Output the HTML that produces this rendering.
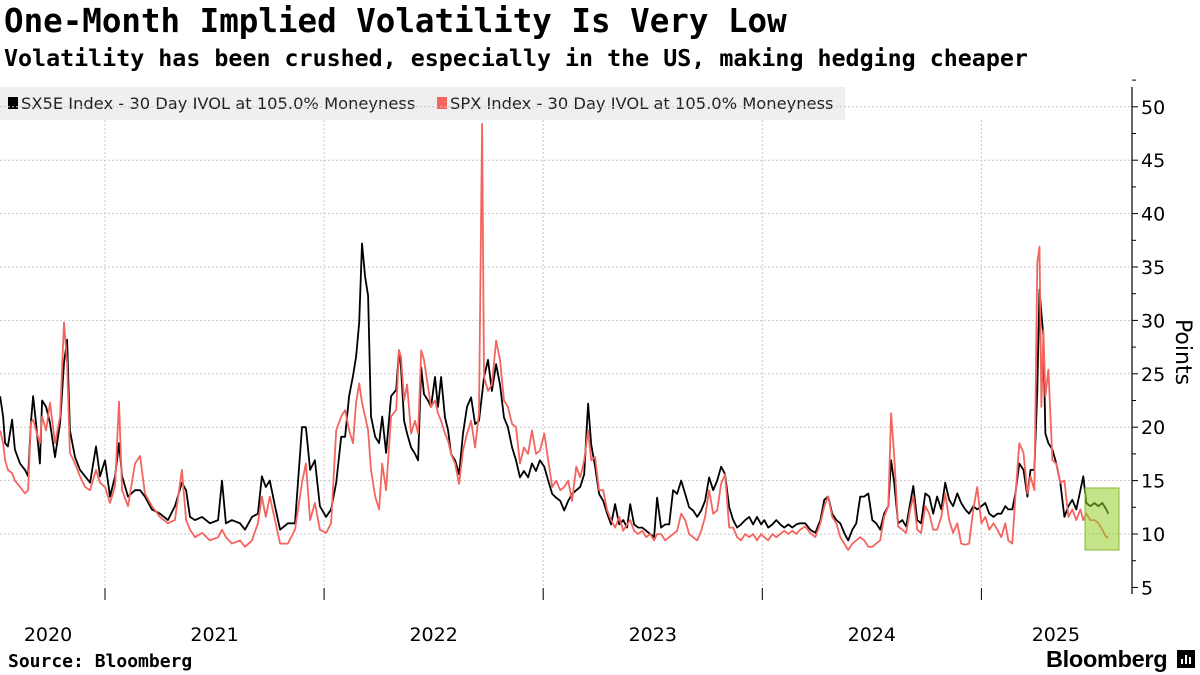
<!DOCTYPE html>
<html><head><meta charset="utf-8">
<style>
html,body{margin:0;padding:0;background:#fff;width:1200px;height:675px;overflow:hidden;font-family:"DejaVu Sans",sans-serif;}
#title{position:absolute;left:4px;top:2px;font-size:32.5px;font-weight:bold;color:#000;font-family:"DejaVu Sans Mono","Liberation Mono",monospace;white-space:nowrap;}
#subtitle{position:absolute;left:4px;top:45px;font-size:23.3px;font-weight:bold;color:#000;font-family:"DejaVu Sans Mono","Liberation Mono",monospace;white-space:nowrap;}
#src{position:absolute;left:8px;top:651px;font-size:18px;font-weight:bold;font-family:"DejaVu Sans Mono","Liberation Mono",monospace;}
#brand{position:absolute;left:1046px;top:646px;font-size:23.5px;font-weight:bold;letter-spacing:-0.3px;font-family:"Liberation Sans",sans-serif;}
svg{position:absolute;left:0;top:0;}
</style></head><body>
<div id="title">One-Month Implied Volatility Is Very Low</div>
<div id="subtitle">Volatility has been crushed, especially in the US, making hedging cheaper</div>
<svg id="chart" width="1200" height="675"></svg>
<div id="src">Source: Bloomberg</div>
<div id="brand">Bloomberg</div>
<svg width="1200" height="675" style="pointer-events:none"><rect x="1177" y="650" width="18" height="18" fill="#000"/><rect x="1181" y="659" width="2" height="5" fill="#fff"/><rect x="1185" y="655" width="2" height="9" fill="#fff"/><rect x="1189" y="657" width="2" height="7" fill="#fff"/></svg>
<script>
const dates = [2020.521,2020.535,2020.544,2020.557,2020.576,2020.589,2020.612,2020.635,2020.649,2020.662,2020.672,2020.685,2020.703,2020.713,2020.731,2020.749,2020.772,2020.795,2020.813,2020.827,2020.840,2020.863,2020.886,2020.909,2020.932,2020.959,2020.977,2021.000,
2021.023,2021.046,2021.064,2021.078,2021.105,2021.137,2021.160,2021.182,2021.214,2021.251,2021.287,2021.319,2021.351,2021.370,2021.388,2021.411,2021.443,2021.479,2021.516,2021.534,2021.552,2021.579,2021.616,2021.639,2021.671,2021.698,2021.716,2021.734,2021.752,2021.776,2021.799,2021.835,2021.867,2021.899,2021.917,2021.936,2021.958,2021.981,
2022.009,2022.032,2022.055,2022.078,2022.096,2022.114,2022.132,2022.146,2022.160,2022.173,2022.187,2022.201,2022.214,2022.233,2022.251,2022.265,2022.283,2022.306,2022.329,2022.342,2022.351,2022.365,2022.379,2022.397,2022.415,2022.429,2022.443,2022.456,2022.474,2022.488,2022.506,2022.520,2022.534,2022.552,2022.566,2022.579,2022.598,2022.616,2022.634,2022.652,2022.671,2022.689,2022.707,2022.721,2022.730,2022.748,2022.766,2022.785,2022.803,2022.821,2022.839,2022.858,2022.876,2022.894,2022.912,2022.931,2022.949,2022.967,2022.985,
2023.005,2023.023,2023.041,2023.059,2023.078,2023.096,2023.114,2023.132,2023.151,2023.169,2023.187,2023.205,2023.219,2023.237,2023.255,2023.274,2023.292,2023.310,2023.328,2023.347,2023.365,2023.383,2023.397,2023.415,2023.433,2023.452,2023.470,2023.488,2023.506,2023.520,2023.538,2023.557,2023.575,2023.593,2023.611,2023.630,2023.648,2023.666,2023.684,2023.703,2023.721,2023.739,2023.757,2023.776,2023.794,2023.812,2023.830,2023.849,2023.867,2023.885,2023.903,2023.922,2023.940,2023.958,2023.976,2023.995,
2024.009,2024.027,2024.046,2024.064,2024.082,2024.100,2024.119,2024.137,2024.155,2024.173,2024.196,2024.219,2024.242,2024.265,2024.283,2024.301,2024.319,2024.338,2024.356,2024.374,2024.392,2024.411,2024.429,2024.447,2024.465,2024.484,2024.502,2024.520,2024.538,2024.556,2024.575,2024.588,2024.602,2024.620,2024.639,2024.657,2024.675,2024.689,2024.707,2024.725,2024.744,2024.762,2024.780,2024.798,2024.817,2024.835,2024.853,2024.871,2024.890,2024.908,2024.926,2024.944,2024.963,2024.981,
2025.000,2025.018,2025.036,2025.055,2025.073,2025.091,2025.109,2025.123,2025.141,2025.155,2025.173,2025.192,2025.210,2025.224,2025.242,2025.255,2025.265,2025.274,2025.283,2025.292,2025.306,2025.324,2025.342,2025.360,2025.379,2025.397,2025.415,2025.433,2025.452,2025.465,2025.479,2025.497,2025.516,2025.534,2025.552,2025.570,2025.579];
const sx5e = [22.9,21,18.5,18.2,20.7,17.9,16.6,16,15.4,20.4,22.9,20.4,16.6,22.5,21.9,20.4,17.2,20.4,26,28.2,19.7,17.2,16,15.4,14.8,18.2,15.4,16.9,
13.5,15.4,18.5,15.4,13.5,14.1,14.1,13.5,12.3,11.9,11.3,12.6,14.8,14.1,11.6,11.3,11.6,11,11.3,15,11,11.3,11,10.4,11.6,11.9,15.4,14.4,15,12.6,10.4,11,11,20,20,16,16.9,12.6,
11.6,12.3,14.8,19.1,19.1,22.9,24.8,26.6,29.8,37.2,34.1,32.3,21,19.1,18.5,21,17.6,22.9,23.5,27.2,25.6,20.6,19.4,18.1,17.5,16.9,25.6,23.1,22.5,21.9,24.7,21.9,24.7,20.9,19.7,17.5,16.9,15.6,19.4,21.9,22.8,20.3,20.6,23.1,24.7,26.3,23.4,25.9,24,20.9,20,18.1,16.9,15.3,15.9,15.3,16.6,15.9,16.9,
16.3,15,13.75,13.4,13.1,12.2,13.1,13.75,14.1,14.4,15.6,22.2,18.4,16.3,13.75,13.1,11.9,10.9,12.8,10.9,11.3,10.6,12.8,10.9,10.6,10.6,10.3,10,9.7,13.4,10.6,10.9,10.9,14.1,13.75,15,13.75,12.5,12.2,11.6,12.2,13.1,15.3,14.1,15,16.3,15.6,12.5,11.3,10.6,10.9,11.3,11.6,10.9,11.6,10.9,
11.3,10.6,10.9,11.3,10.9,10.6,10.9,10.6,10.9,11,11,10.4,10.1,11.3,13.2,13.5,11.9,11.3,11,10.1,9.4,10.4,11,13.5,13.5,13.8,11.3,11,10.4,11.9,12.6,16.9,14.8,11,11.3,10.7,12.9,14.5,11.3,11,13.8,13.5,11.9,13.5,12.3,14.8,13.2,12.6,13.8,12.9,12.3,11.9,12.6,12.3,
12.6,12.9,11.9,11.6,11.9,11.9,12.6,12.3,12.3,13.8,16.6,16,13.5,16,16,23.5,32.9,30.7,28.5,19.4,18.5,17.9,16.6,14.8,11.6,12.6,13.2,12.3,14.1,15.4,12.9,12.6,12.9,12.6,12.9,12.3,11.9];
const spx = [19.7,18.5,16.9,16,15.7,15,14.4,13.8,14.1,20.4,20.7,19.7,18.5,21,19.7,22.3,18.5,21,29.8,26,17.6,16.6,15.4,14.4,14.1,16,14.8,14.4,
12.9,14.5,22.4,14.1,12.6,16.6,17.3,13.8,12.6,11.6,11,11.3,16,11.3,10.4,9.7,10.1,9.4,9.7,10.4,9.7,9.1,9.4,8.8,9.4,11,13.5,11.6,13.5,11.3,9.1,9.1,10.4,14.8,16.6,11.3,12.9,10.4,
10.1,11,19.7,21,21.6,19.7,18.5,22.3,24.1,22.3,21,19.7,16,13.5,12.3,16.6,14.1,21,21.6,27.2,26.6,22.5,24,19.4,20.6,19.4,27.2,26.3,23.8,21.9,22.5,21.3,20.6,19.4,18.75,17.5,16.6,14.7,17.8,19.4,20.6,18.1,21.3,48.4,24.7,23.4,24,28.1,26.3,22.5,21.9,20.3,20,16.6,18.1,17.5,19.7,17.5,17.8,
19.4,16.9,14.4,15,14.1,14.4,15,13.1,16.3,15.3,16.9,19.7,16.9,17.2,14.1,14.1,12.2,11.3,10.6,11.6,10.3,10.9,11.3,10.3,10,10.3,9.7,10,9.4,10,10,9.4,9.7,10,10.3,11.9,11.3,10,9.7,9.4,10.3,11.6,14.1,11.9,12.2,14.7,15.6,10.6,10.6,9.7,9.4,10,9.7,10,9.4,10,
9.7,9.4,10,9.7,10,10.3,10,10.3,10,10.4,10.7,10.1,9.7,11,12.6,13.5,11.6,11,9.7,9.1,8.5,9.1,9.4,9.7,9.4,8.8,8.8,9.1,9.4,11.6,12.6,21.3,17.3,10.7,10.4,10.1,12.3,13.5,10.4,10.1,12.6,11.9,10.4,10.4,11.6,13.8,11.3,10.1,11,9.1,9,9.1,12.3,14.4,
11,11.6,10.4,11,10.4,9.7,11,9.4,9.1,13.5,18.5,17.6,13.8,15.4,14.1,35.4,36.9,21.9,29.1,22.9,25.4,16.9,16.6,14.8,15,11.6,12.3,11.3,12.3,11.3,11.9,11.3,11.3,11,10.4,9.7,9.7];
const yTicks = [5,10,15,20,25,30,35,40,45,50];
const yearBounds = [2021,2022,2023,2024,2025];
const yearLabels = ["2020","2021","2022","2023","2024","2025"];
const yearLabelPos = [2020.74,2021.5,2022.5,2023.5,2024.5,2025.34];

const NS="http://www.w3.org/2000/svg";
const svg=document.getElementById('chart');
const xS=t=>105+(t-2021)*219.1;
const yS=v=>534-(v-10)*10.68;
function mk(tag,attrs,parent){const e=document.createElementNS(NS,tag);for(const k in attrs)e.setAttribute(k,attrs[k]);(parent||svg).appendChild(e);return e;}

const lg=mk('rect',{x:0,y:87,width:845,height:33,fill:'#efefef'});


const legendItems=[["SX5E Index - 30 Day IVOL at 105.0% Moneyness","#000",8],["SPX Index - 30 Day IVOL at 105.0% Moneyness","#f4655f",437]];
legendItems.forEach(([txt,c,x],i)=>{
  const s=mk('rect',{x:x,y:97,width:10,height:12,fill:c});
  
  
  const t=mk('text',{x:x+13,y:109,'font-size':'16.3','font-family':'DejaVu Sans, sans-serif',fill:'#222'});
  t.textContent=txt;
  
  
});

yTicks.forEach(v=>{
  if(v===5)return;
  const g=mk('line',{x1:0,x2:1132,y1:yS(v),y2:yS(v),stroke:'#c8c8c8','stroke-width':1,'stroke-dasharray':'2,2'});
  
  
});
yearBounds.forEach(yr=>{
  const g=mk('line',{x1:xS(yr),x2:xS(yr),y1:120,y2:600,stroke:'#c8c8c8','stroke-width':1,'stroke-dasharray':'2,2'});
  
  
});

function series(vals,color,name){
  let d='';
  vals.forEach((v,i)=>{d+=(i?'L':'M')+xS(dates[i]).toFixed(1)+','+yS(v).toFixed(1);});
  const p=mk('path',{d:d,fill:'none',stroke:color,'stroke-width':1.8,'stroke-linejoin':'round'});
  
  
}
series(sx5e,'#000','sx5e-line');
series(spx,'#f4655f','spx-line');

const hb=mk('rect',{x:1085,y:488,width:34,height:62,fill:'rgba(150,205,40,0.55)',stroke:'#86b833','stroke-width':1});



const ax=mk('line',{x1:1132,x2:1132,y1:87,y2:594,stroke:'#000','stroke-width':1.2});


for(let v=5;v<=52.5;v+=2.5){
  const major=(v%5===0);
  const tk=mk('line',{x1:1132,x2:major?1138:1136,y1:yS(v),y2:yS(v),stroke:'#000','stroke-width':1});
  
  
}
yTicks.forEach(v=>{
  const t=mk('text',{x:1141,y:yS(v)+7,'font-size':'19','font-family':'DejaVu Sans, sans-serif',fill:'#000'});
  t.textContent=v;
  
  
});
const yt=mk('text',{x:0,y:0,'font-size':'22','font-family':'DejaVu Sans, sans-serif',fill:'#000',transform:'translate(1176,352) rotate(90)','text-anchor':'middle'});
yt.textContent='Points';



yearBounds.forEach(yr=>{
  const tk=mk('line',{x1:xS(yr),x2:xS(yr),y1:588,y2:600,stroke:'#000','stroke-width':1});
  
  
});
yearLabels.forEach((l,i)=>{
  const t=mk('text',{x:xS(yearLabelPos[i]),y:641,'font-size':'19','font-family':'DejaVu Sans, sans-serif',fill:'#000','text-anchor':'middle'});
  t.textContent=l;
  
  
});
</script>
</body></html>
